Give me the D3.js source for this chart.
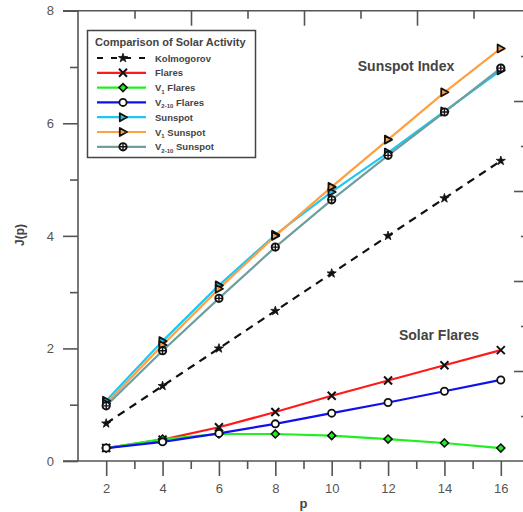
<!DOCTYPE html>
<html>
<head>
<meta charset="utf-8">
<script src="https://cdn.jsdelivr.net/npm/d3@7"></script>
<style>
  html, body { margin: 0; padding: 0; background: #fff; }
  svg { display: block; font-family: Arial, "Liberation Sans", sans-serif; }
</style>
</head>
<body>
<svg id="chart" width="523" height="512"></svg>
<script>
// Structure-function exponents J(p) for solar activity indices
const pValues = [2, 4, 6, 8, 10, 12, 14, 16];
const kolmogorov   = [0.667, 1.333, 2.0, 2.667, 3.333, 4.0, 4.667, 5.333];
const flares       = [0.23, 0.38, 0.60, 0.87, 1.16, 1.43, 1.70, 1.97];
const v1Flares     = [0.23, 0.39, 0.48, 0.48, 0.45, 0.39, 0.32, 0.23];
const v210Flares   = [0.23, 0.34, 0.49, 0.66, 0.85, 1.04, 1.24, 1.44];
const sunspot      = [1.07, 2.13, 3.12, 4.02, 4.78, 5.48, 6.21, 6.94];
const v1Sunspot    = [1.02, 2.06, 3.06, 4.00, 4.87, 5.71, 6.55, 7.33];
const v210Sunspot  = [0.98, 1.96, 2.89, 3.80, 4.64, 5.43, 6.20, 6.98];

const xTicks = [2, 4, 6, 8, 10, 12, 14, 16];
const yTicks = [0, 2, 4, 6, 8];

const series = [
  { name: "Kolmogorov", sub: null, values: kolmogorov, color: "#111", marker: "star", dash: "8,6" },
  { name: "Flares", sub: null, values: flares, color: "#ff1a1a", marker: "x" },
  { name: "V", sub: "1", rest: " Flares", values: v1Flares, color: "#22ee22", marker: "diamond" },
  { name: "V", sub: "2-10", rest: " Flares", values: v210Flares, color: "#1010ee", marker: "circle" },
  { name: "Sunspot", sub: null, values: sunspot, color: "#1ec6f2", marker: "tri" },
  { name: "V", sub: "1", rest: " Sunspot", values: v1Sunspot, color: "#ff9f40", marker: "tri" },
  { name: "V", sub: "2-10", rest: " Sunspot", values: v210Sunspot, color: "#6e9e9e", marker: "circleplus" }
];

const svg = d3.select("#chart");
const axisColor = "#555";
const textColor = "#444";

const x = d3.scaleLinear().domain([1, 17]).range([78, 529]);
const y = d3.scaleLinear().domain([0, 8]).range([461, 10.7]);
// secondary frame scales (top and right)
const xTop = d3.scaleLinear().domain([0, 4]).range([78, 530]);
const yRight = d3.scaleLinear().domain([0, 5]).range([461, 11]);

// frame lines
const frame = svg.append("g").attr("stroke", axisColor).attr("stroke-width", 1.6).attr("fill", "none");
frame.append("line").attr("x1", 63).attr("x2", 529).attr("y1", y(0)).attr("y2", y(0));
frame.append("line").attr("x1", 63).attr("x2", 529).attr("y1", y(8)).attr("y2", y(8));
frame.append("line").attr("x1", x(1)).attr("x2", x(1)).attr("y1", y(8)).attr("y2", y(0));
frame.append("line").attr("x1", 529).attr("x2", 529).attr("y1", y(8)).attr("y2", y(0));

// bottom axis
svg.append("g").attr("transform", `translate(0,${y(0)})`)
  .call(d3.axisBottom(x).tickValues(xTicks).tickSize(15).tickPadding(8).tickFormat(d3.format("d")));
svg.append("g").attr("transform", `translate(0,${y(0)})`)
  .call(d3.axisBottom(x).tickValues([3, 5, 7, 9, 11, 13, 15]).tickSize(8).tickFormat(""));

// left axis
svg.append("g").attr("transform", `translate(${x(1)},0)`)
  .call(d3.axisLeft(y).tickValues(yTicks).tickSize(15).tickPadding(9).tickFormat(d3.format("d")));
svg.append("g").attr("transform", `translate(${x(1)},0)`)
  .call(d3.axisLeft(y).tickValues([1, 3, 5, 7]).tickSize(8).tickFormat(""));

// top axis (inward ticks)
svg.append("g").attr("transform", `translate(0,${y(8)})`)
  .call(d3.axisBottom(xTop).tickValues([1, 2, 3]).tickSize(15).tickFormat(""));
svg.append("g").attr("transform", `translate(0,${y(8)})`)
  .call(d3.axisBottom(xTop).tickValues([0.5, 1.5, 2.5, 3.5]).tickSize(8).tickFormat(""));

// right axis (inward ticks)
svg.append("g").attr("transform", `translate(529,0)`)
  .call(d3.axisLeft(yRight).tickValues([1, 2, 3, 4]).tickSize(15).tickFormat(""));
svg.append("g").attr("transform", `translate(529,0)`)
  .call(d3.axisLeft(yRight).tickValues([0.5, 1.5, 2.5, 3.5, 4.5]).tickSize(8).tickFormat(""));

svg.selectAll(".domain").remove();
svg.selectAll(".tick line").attr("stroke", axisColor).attr("stroke-width", 1.6);
svg.selectAll(".tick text").attr("fill", "#555").attr("font-size", 13)
  .attr("font-family", "Arial, 'Liberation Sans', sans-serif");

// axis titles
svg.append("text").attr("x", x(9)).attr("y", 508).attr("text-anchor", "middle")
  .attr("font-weight", "bold").attr("font-size", 13).attr("fill", textColor).text("p");
svg.append("text").attr("transform", "translate(24,235) rotate(-90)").attr("text-anchor", "middle")
  .attr("font-weight", "bold").attr("font-size", 12).attr("fill", textColor).text("J(p)");

// marker drawing
function drawMarker(g, type, color) {
  if (type === "star") {
    g.append("path").attr("d", d3.symbol(d3.symbolStar, 26)())
      .attr("fill", "#111").attr("stroke", "#111").attr("stroke-width", 0.8);
  } else if (type === "x") {
    const r = 4;
    g.append("path").attr("d", `M${-r},${-r}L${r},${r}M${-r},${r}L${r},${-r}`)
      .attr("stroke", "#111").attr("stroke-width", 2).attr("fill", "none");
  } else if (type === "diamond") {
    const r = 4;
    g.append("path").attr("d", `M0,${-r}L${r},0L0,${r}L${-r},0Z`)
      .attr("fill", color).attr("stroke", "#111").attr("stroke-width", 1.6);
  } else if (type === "circle") {
    g.append("circle").attr("r", 3.6).attr("fill", "#fff")
      .attr("stroke", "#111").attr("stroke-width", 1.8);
  } else if (type === "tri") {
    const r = 4;
    g.append("path").attr("d", `M${-r * 0.8},${-r}L${r},0L${-r * 0.8},${r}Z`)
      .attr("fill", color).attr("stroke", "#111").attr("stroke-width", 1.8).attr("stroke-linejoin", "round");
  } else if (type === "circleplus") {
    const r = 3.7;
    g.append("circle").attr("r", r).attr("fill", "#fff").attr("stroke", "#111").attr("stroke-width", 1.8);
    g.append("path").attr("d", `M${-r},0L${r},0M0,${-r}L0,${r}`)
      .attr("stroke", "#111").attr("stroke-width", 1.4);
  }
}

// series lines and markers
const line = d3.line().x((d, i) => x(pValues[i])).y(d => y(d));
const plot = svg.append("g");
series.forEach(s => {
  plot.append("path").datum(s.values).attr("d", line)
    .attr("fill", "none").attr("stroke", s.color).attr("stroke-width", 2.2)
    .attr("stroke-dasharray", s.dash || null);
});
series.forEach(s => {
  s.values.forEach((v, i) => {
    const g = plot.append("g").attr("transform", `translate(${x(pValues[i])},${y(v)})`);
    drawMarker(g, s.marker, s.color);
  });
});

// annotations
svg.append("text").attr("x", 406).attr("y", 71).attr("text-anchor", "middle")
  .attr("font-weight", "bold").attr("font-size", 14).attr("fill", textColor).text("Sunspot Index");
svg.append("text").attr("x", 439).attr("y", 340).attr("text-anchor", "middle")
  .attr("font-weight", "bold").attr("font-size", 14).attr("fill", textColor).text("Solar Flares");

// legend
const legend = svg.append("g");
legend.append("rect").attr("x", 87.5).attr("y", 30.5).attr("width", 168).attr("height", 127)
  .attr("fill", "#fff").attr("stroke", "#444").attr("stroke-width", 1.5);
legend.append("text").attr("x", 95).attr("y", 46).attr("font-weight", "bold").attr("font-size", 11)
  .attr("fill", textColor).text("Comparison of Solar Activity");
series.forEach((s, i) => {
  const yy = 58 + i * 14.8;
  legend.append("line").attr("x1", 97).attr("x2", 146).attr("y1", yy).attr("y2", yy)
    .attr("stroke", s.color).attr("stroke-width", 2.2).attr("stroke-dasharray", s.dash ? "6,8" : null);
  const g = legend.append("g").attr("transform", `translate(123,${yy})`);
  drawMarker(g, s.marker, s.color);
  const t = legend.append("text").attr("x", 155).attr("y", yy + 3.5).attr("font-weight", "bold")
    .attr("font-size", 9.5).attr("fill", textColor);
  if (s.sub) {
    t.append("tspan").text(s.name);
    t.append("tspan").attr("font-size", 6).attr("dy", 2.5).text(s.sub);
    t.append("tspan").attr("dy", -2.5).text(s.rest);
  } else {
    t.text(s.name);
  }
});
</script>
</body>
</html>
